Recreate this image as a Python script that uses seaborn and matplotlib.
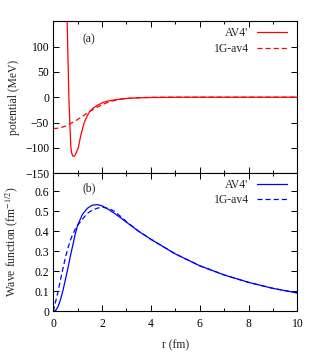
import matplotlib
matplotlib.use('Agg')
import matplotlib.pyplot as plt
import pandas as pd
import seaborn as sns
from matplotlib.ticker import MultipleLocator

# Potential (MeV)
r_av4_pot = [0.55, 0.57, 0.60, 0.64, 0.68, 0.72, 0.76, 0.80, 0.85, 0.90, 0.95, 1.03, 1.13,
             1.27, 1.40, 1.50, 1.65, 1.85, 2.05, 2.25, 2.60, 3.00, 3.50, 4.00, 5.00, 6.00,
             8.00, 10.0]
v_av4 = [185, 150, 85, 0, -50, -98, -111, -116, -117, -114, -109, -99, -75,
         -50, -36, -28, -21, -15, -10, -7.5, -4.5, -2.5, -1.2, -0.6, -0.15, 0,
         0, 0]

r_1g_pot = [0.0, 0.25, 0.5, 0.75, 1.0, 1.25, 1.5, 1.75, 2.0, 2.25, 2.5, 2.75,
            3.0, 3.5, 4.0, 5.0, 6.0, 8.0, 10.0]
v_1g = [-62, -61, -57, -51, -44, -36, -28, -21, -15, -10, -6.5, -4.2,
        -2.6, -0.9, -0.3, 0, 0, 0, 0]

# Wave functions (fm^-1/2)
r_wf = [0.0, 0.1, 0.2, 0.3, 0.4, 0.5, 0.6, 0.7, 0.8, 0.9, 1.0, 1.2, 1.4, 1.6,
        1.8, 2.0, 2.25, 2.5, 2.75, 3.0, 3.5, 4.0, 5.0, 6.0, 7.0, 8.0, 9.0, 10.0]
u_av4 = [0.0, 0.005, 0.025, 0.06, 0.105, 0.16, 0.215, 0.275, 0.33, 0.385, 0.43,
         0.485, 0.515, 0.53, 0.533, 0.527, 0.51, 0.49, 0.468, 0.445, 0.40, 0.36,
         0.287, 0.228, 0.182, 0.145, 0.115, 0.092]
u_1g = [0.0, 0.05, 0.10, 0.16, 0.215, 0.27, 0.315, 0.355, 0.385, 0.41, 0.43,
        0.46, 0.49, 0.505, 0.515, 0.52, 0.515, 0.50, 0.475, 0.448, 0.40, 0.36,
        0.287, 0.228, 0.182, 0.145, 0.115, 0.092]

labels = ["AV4'", "1G-av4"]

sns.set_style('ticks')
plt.rcParams['font.family'] = ['Liberation Serif', 'DejaVu Serif']
plt.rcParams['mathtext.fontset'] = 'stix'
fs = 8.4

fig = plt.figure(figsize=(3.15, 3.6), dpi=100)
ax1 = fig.add_axes([0.169, 0.519, 0.775, 0.422])
ax2 = fig.add_axes([0.169, 0.135, 0.775, 0.384])

pot_av4 = pd.DataFrame({'r': r_av4_pot, 'v': v_av4})
pot_1g = pd.DataFrame({'r': r_1g_pot, 'v': v_1g})
wf = pd.DataFrame({'r': r_wf, 'av4': u_av4, '1g': u_1g})

lw = 0.9
sns.lineplot(data=pot_av4, x='r', y='v', ax=ax1, color='#ff0000', lw=lw, estimator=None)
sns.lineplot(data=pot_1g, x='r', y='v', ax=ax1, color='#ff0000', lw=lw, estimator=None)
ax1.lines[1].set_dashes([4, 2.5])

sns.lineplot(data=wf, x='r', y='av4', ax=ax2, color='#0000ff', lw=lw, estimator=None)
sns.lineplot(data=wf, x='r', y='1g', ax=ax2, color='#0000ff', lw=lw, estimator=None)
ax2.lines[1].set_dashes([4, 2.5])

ax1.set_xlim(0, 10)
ax1.set_ylim(-150, 150)
ax1.set_yticks([-150, -100, -50, 0, 50, 100])
ax2.set_xlim(0, 10)
ax2.set_ylim(0, 0.69)
ax2.set_yticks([0, 0.1, 0.2, 0.3, 0.4, 0.5, 0.6])
ax2.set_yticklabels(['0', '0.1', '0.2', '0.3', '0.4', '0.5', '0.6'])

for ax in (ax1, ax2):
    ax.xaxis.set_major_locator(MultipleLocator(2))
    ax.xaxis.set_minor_locator(MultipleLocator(1))
    ax.tick_params(which='both', direction='in', top=True, right=True,
                   labelsize=fs, width=0.7, colors='black')
    ax.tick_params(which='major', length=4)
    ax.tick_params(which='minor', length=2)
    ax.tick_params(axis='y', pad=3)
    ax.tick_params(axis='x', pad=5)
    for s in ax.spines.values():
        s.set_visible(True)
        s.set_linewidth(0.8)
        s.set_color('black')
    ax.set_xlabel('')
    ax.set_ylabel('')

ax1.tick_params(labelbottom=False)

ax1.set_ylabel('potential (MeV)', fontsize=fs)
ax1.yaxis.set_label_coords(-0.135, 0.5)
ax2.set_ylabel('Wave function (fm$^{-1/2}$)', fontsize=fs)
ax2.yaxis.set_label_coords(-0.135, 0.5)
ax2.set_xlabel('r (fm)', fontsize=fs)
ax2.xaxis.set_label_coords(0.5, -0.2)

ax1.text(1.46, 115, '(a)', fontsize=fs, ha='center', va='center')
ax2.text(1.46, 0.615, '(b)', fontsize=fs, ha='center', va='center')

ax1.legend(ax1.lines[:2], labels, loc='upper right', bbox_to_anchor=(0.958, 0.96),
           frameon=False, markerfirst=False, fontsize=fs, borderpad=0,
           borderaxespad=0, handlelength=2.6, handletextpad=0.7, labelspacing=0.3)
ax2.legend(ax2.lines[:2], labels, loc='upper right', bbox_to_anchor=(0.958, 0.958),
           frameon=False, markerfirst=False, fontsize=fs, borderpad=0,
           borderaxespad=0, handlelength=2.6, handletextpad=0.7, labelspacing=0.3)

fig.savefig('out.png', dpi=100)
